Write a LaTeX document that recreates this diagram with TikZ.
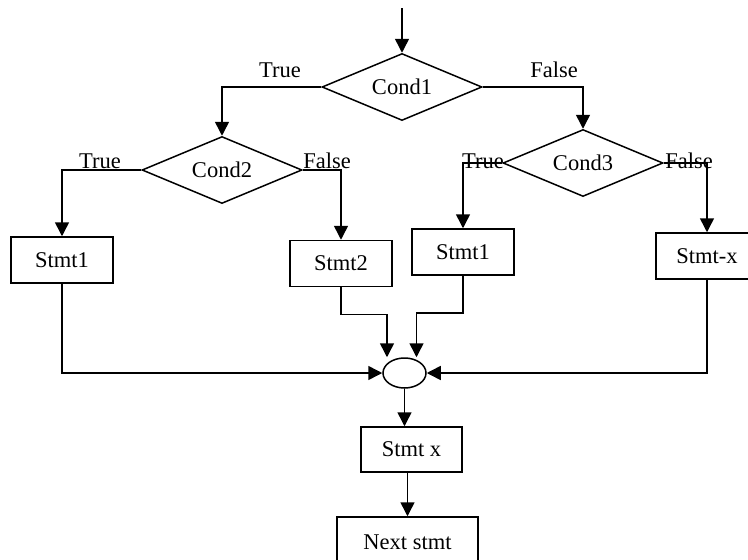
\documentclass[tikz,border=0pt]{standalone}
\usepackage{fontspec}
\setmainfont{Liberation Serif}
\usetikzlibrary{shapes.geometric,arrows.meta,calc}
\begin{document}
\begin{tikzpicture}[x=1pt,y=-1pt,
  font=\fontsize{22.5}{27}\selectfont,
  line width=1.5pt,
  decision/.style={draw,shape=diamond,aspect=2.4,inner sep=0pt,minimum width=160pt,minimum height=67pt},
  stmtbox/.style={draw,rectangle,inner sep=0pt,minimum width=102pt,minimum height=46pt},
  junction/.style={draw,ellipse,inner sep=0pt,minimum width=43pt,minimum height=30pt},
  branch/.style={anchor=base,inner sep=0pt},
  arr/.style={-{Triangle[width=14pt,length=14pt]}}]
\useasboundingbox (0,0) rectangle (748,560);
\clip (0,0) rectangle (748,560);

% decisions
\coordinate (start) at (402,8);
\node[decision] (c1) at (402,87) {Cond1};
\node[decision] (c2) at (222,170) {Cond2};
\node[decision] (c3) at (583,163) {Cond3};

% statements
\node[stmtbox] (s1) at (62,260) {Stmt1};
\node[stmtbox] (s2) at (341,263.5) {Stmt2};
\node[stmtbox] (s1b) at (463,252) {Stmt1};
\node[stmtbox] (sx) at (707,256) {Stmt-x};
\node[junction] (j) at (404.5,373) {};
\node[stmtbox,minimum width=101pt,minimum height=45pt] (stx) at (411.5,449.5) {Stmt x};
\node[stmtbox,minimum width=141pt,minimum height=50pt] (nx) at (407.5,542) {Next stmt};

% branch labels
\node[branch] (t1) at (280,77) {True};
\node[branch] (f1) at (554,77) {False};
\node[branch] (t2) at (100,168) {True};
\node[branch] (f2) at (327,168) {False};
\node[branch] (t3) at (483,168) {True};
\node[branch] (f3) at (689,168) {False};

% flow
\draw[arr] (start) -- (c1.north);
\draw[arr] (c1.west) -| (c2.north);
\draw[arr] (c1.east) -| (c3.north);
\draw[arr] (c2.west) -| (s1.north);
\draw[arr] (c2.east) -| (s2.north);
\draw[arr] (c3.west) -| (s1b.north);
\draw[arr] (c3.east) -| (sx.north);

% merge into the junction
\coordinate (jl) at ($(j.north)+(-17.5,0)$);
\coordinate (jr) at ($(j.north)+(12,0)$);
\draw[arr] (s1.south) |- (j.west);
\draw[arr] (s2.south) -- ++(0,27) -| (jl);
\draw[arr] (s1b.south) -- ++(0,37) -| (jr);
\draw[arr] (sx.south) |- (j.east);
\draw[arr] (j.south) -- (j.south |- stx.north);
\draw[arr] (nx.north |- stx.south) -- (nx.north);
\end{tikzpicture}
\end{document}
